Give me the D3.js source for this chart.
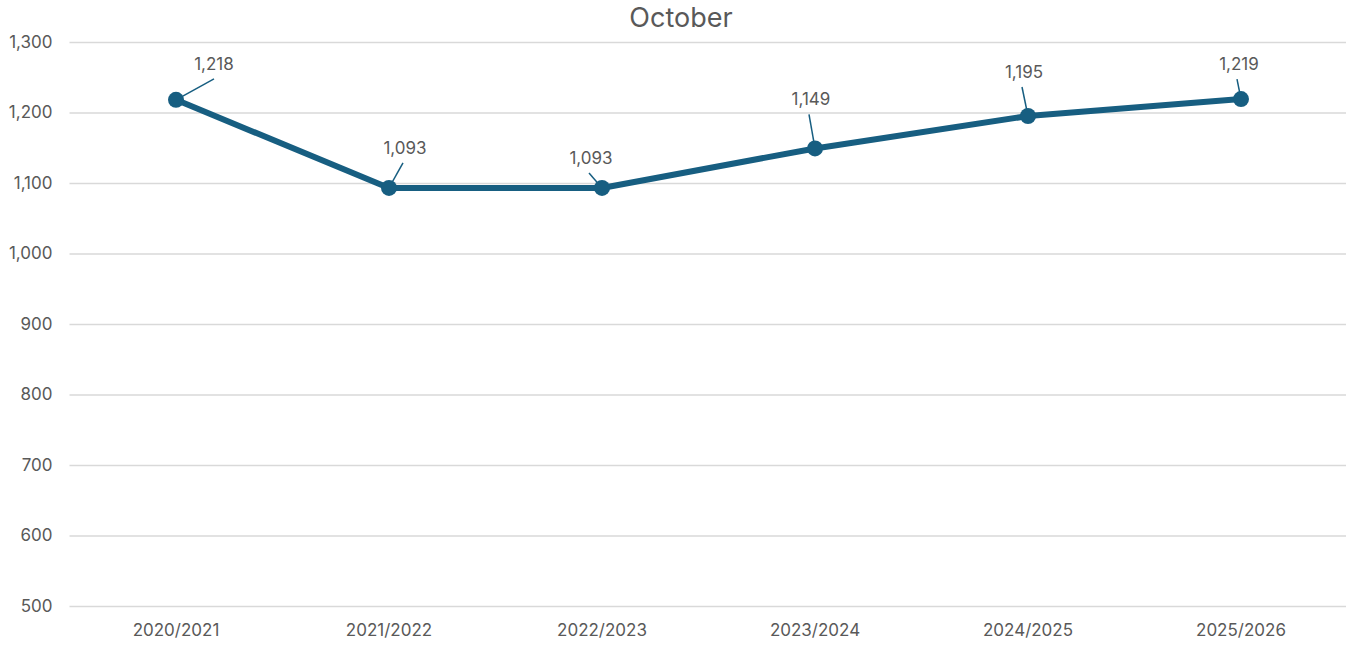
<!DOCTYPE html>
<html>
<head>
<meta charset="utf-8">
<script src="https://cdn.jsdelivr.net/npm/d3@7"></script>
<style>
  body { margin: 0; background: #fff; }
  text { font-family: Inter, "Open Sans", sans-serif; fill: #595959; }
</style>
</head>
<body>
<div id="chart"></div>
<script>
"use strict";

// data
var seasons = ["2020/2021", "2021/2022", "2022/2023", "2023/2024", "2024/2025", "2025/2026"];
var counts = [1218, 1093, 1093, 1149, 1195, 1219];
var yTicks = [500, 600, 700, 800, 900, 1000, 1100, 1200, 1300];

// where each data label sits relative to its point (label centre, leader end)
var labelOffsets = [[38, -36], [16, -40], [-11, -30], [-4, -49], [-4, -44], [-2, -35]];

var W = 1346, H = 645;
var margin = { top: 42, right: -1.5, bottom: 39, left: 69.5 };

var svg = d3.select("#chart").append("svg")
  .attr("width", W).attr("height", H);

var x = d3.scaleBand().domain(seasons).range([margin.left, W - margin.right]);
var y = d3.scaleLinear().domain([500, 1300]).range([H - margin.bottom, margin.top]);

// gridlines + y labels
var yAxis = d3.axisLeft(y).tickValues(yTicks).tickFormat(d3.format(",")).tickSize(-(W - margin.left)).tickPadding(17);
var gy = svg.append("g").attr("transform", "translate(" + margin.left + ",0)").call(yAxis);
gy.select(".domain").remove();
gy.selectAll("line").attr("stroke", "#d9d9d9").attr("stroke-width", 1.3);
gy.selectAll("text").style("font-size", "17px").attr("fill", "#595959");

// x labels
var xAxis = d3.axisBottom(x).tickSize(0).tickPadding(18);
var gx = svg.append("g").attr("transform", "translate(0," + (H - margin.bottom) + ")").call(xAxis);
gx.select(".domain").remove();
gx.selectAll("text").style("font-size", "17px").attr("fill", "#595959");

// title
svg.append("text").attr("x", 681).attr("y", 27).attr("text-anchor", "middle")
  .style("font-size", "27px").text("October");

var color = "#175e81";
var cx = function (d, i) { return x(seasons[i]) + x.bandwidth() / 2; };

svg.append("path")
  .datum(counts)
  .attr("fill", "none").attr("stroke", color).attr("stroke-width", 6)
  .attr("stroke-linejoin", "round")
  .attr("d", d3.line().x(cx).y(function (d) { return y(d); }));

// leader lines
svg.selectAll(".leader").data(counts).enter().append("line")
  .attr("stroke", color).attr("stroke-width", 1.5)
  .attr("x1", function (d, i) { return cx(d, i); })
  .attr("y1", function (d) { return y(d); })
  .attr("x2", function (d, i) { return cx(d, i) + labelOffsets[i][0] - (i === 0 ? 0 : 2); })
  .attr("y2", function (d, i) {
    var o = labelOffsets[i];
    return y(d) + o[1] + (o[1] < 0 ? 15 : -15);
  });

svg.selectAll(".dot").data(counts).enter().append("circle")
  .attr("cx", cx).attr("cy", function (d) { return y(d); })
  .attr("r", 8).attr("fill", color);

svg.selectAll(".lbl").data(counts).enter().append("text")
  .attr("x", function (d, i) { return cx(d, i) + labelOffsets[i][0]; })
  .attr("y", function (d, i) { return y(d) + labelOffsets[i][1] + 6; })
  .attr("text-anchor", "middle")
  .style("font-size", "17px")
  .text(d3.format(","));
</script>
</body>
</html>
